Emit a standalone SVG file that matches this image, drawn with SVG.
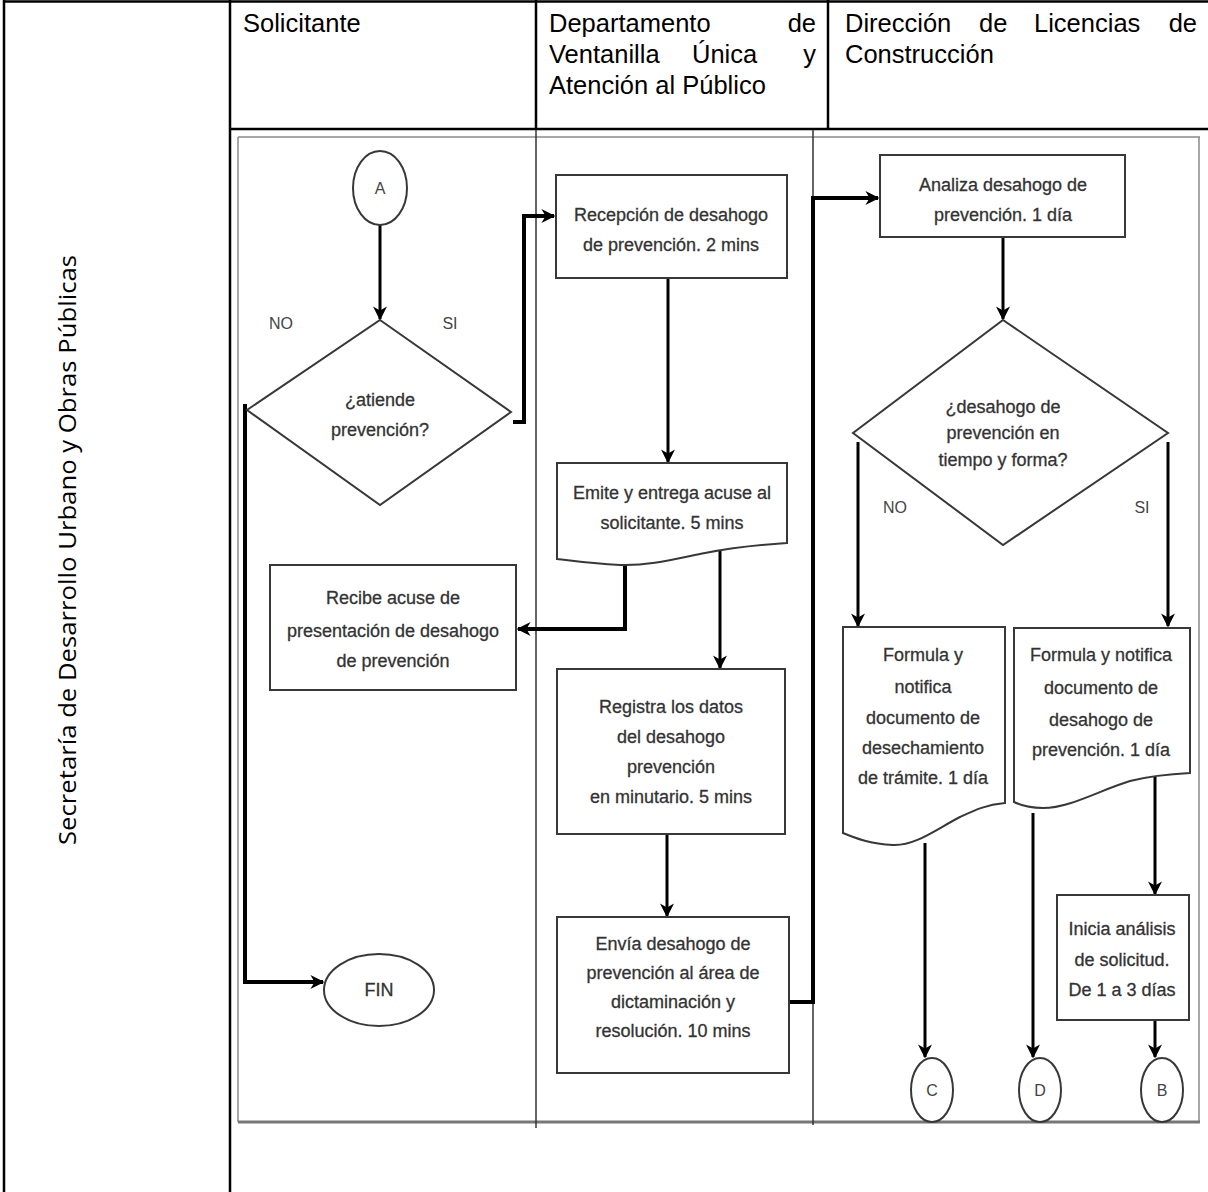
<svg xmlns="http://www.w3.org/2000/svg" width="1208" height="1192" viewBox="0 0 1208 1192">
<style>
.tb{stroke:#000;stroke-width:2.5;fill:none}
.hd{font-family:"Liberation Sans",Arial,sans-serif;font-size:25.5px;fill:#000}
.frame{stroke:#8a8a8a;stroke-width:1.5;fill:none}
.lane{stroke:#333;stroke-width:1.5;fill:none}
.shp{fill:#fff;stroke:#383838;stroke-width:2}
.t{font-family:"Liberation Sans",Arial,sans-serif;font-size:18px;fill:#333;stroke:#333;stroke-width:0.3;text-anchor:middle}
.lbl{font-family:"Liberation Sans",Arial,sans-serif;font-size:16px;fill:#444;text-anchor:middle}
.c3{stroke:#000;stroke-width:3;fill:none}
.c4{stroke:#000;stroke-width:4;fill:none}
</style>
<defs>
<marker id="ah" viewBox="0 0 10 10" refX="9" refY="5" markerWidth="14" markerHeight="14" markerUnits="userSpaceOnUse" orient="auto">
<path d="M0,0 L10,5 L0,10 L3,5 z" fill="#000"/>
</marker>
</defs>
<rect width="1208" height="1192" fill="#fff"/>
<g id="table">
<line class="tb" x1="4" y1="1.5" x2="1208" y2="1.5"/>
<line class="tb" x1="4" y1="0" x2="4" y2="1192"/>
<line class="tb" x1="230" y1="0" x2="230" y2="1192"/>
<line class="tb" x1="230" y1="129" x2="1208" y2="129"/>
<line class="tb" x1="536" y1="0" x2="536" y2="129" stroke-width="2"/>
<line class="tb" x1="828" y1="0" x2="828" y2="129" stroke-width="2"/>
<text transform="translate(76,550) rotate(-90)" text-anchor="middle" style="font-family:'Open Sans','Noto Sans',sans-serif;font-size:23px;fill:#000" textLength="590" lengthAdjust="spacingAndGlyphs">Secretaría de Desarrollo Urbano y Obras Públicas</text>
<text class="hd" x="243" y="32">Solicitante</text>
<text class="hd" x="549" y="32">Departamento</text>
<text class="hd" x="816" y="32" text-anchor="end">de</text>
<text class="hd" x="549" y="63">Ventanilla</text>
<text class="hd" x="692" y="63">Única</text>
<text class="hd" x="816" y="63" text-anchor="end">y</text>
<text class="hd" x="549" y="94">Atención al Público</text>
<text class="hd" x="845" y="32">Dirección</text>
<text class="hd" x="979" y="32">de</text>
<text class="hd" x="1034" y="32">Licencias</text>
<text class="hd" x="1197" y="32" text-anchor="end">de</text>
<text class="hd" x="845" y="63">Construcción</text>
</g>
<g id="frame">
<line class="frame" x1="238" y1="137" x2="1200" y2="137"/>
<line class="frame" x1="238" y1="137" x2="238" y2="1122"/>
<line class="frame" x1="1199" y1="137" x2="1199" y2="1122"/>
<line x1="238" y1="1122" x2="1200" y2="1122" stroke="#777" stroke-width="3"/>
<line class="lane" x1="536" y1="130" x2="536" y2="1128"/>
<line class="lane" x1="813" y1="130" x2="813" y2="1125"/>
</g>
<g id="connectors">
<line class="c3" x1="380" y1="225" x2="380" y2="319" marker-end="url(#ah)"/>
<path class="c4" d="M513,422 H524 V216 H554" marker-end="url(#ah)"/>
<path class="c4" d="M245,404 V982 H323" marker-end="url(#ah)"/>
<line class="c3" x1="668" y1="278" x2="668" y2="462" marker-end="url(#ah)"/>
<path class="c4" d="M625,565 V629 H518" marker-end="url(#ah)"/>
<line class="c3" x1="720" y1="548" x2="720" y2="668" marker-end="url(#ah)"/>
<line class="c3" x1="667" y1="834" x2="667" y2="916" marker-end="url(#ah)"/>
<path class="c4" d="M789,1002 H813 V198 H878" marker-end="url(#ah)"/>
<line class="c3" x1="1003" y1="237" x2="1003" y2="319" marker-end="url(#ah)"/>
<line class="c3" x1="858" y1="442" x2="858" y2="626" marker-end="url(#ah)"/>
<line class="c3" x1="1168" y1="442" x2="1168" y2="626" marker-end="url(#ah)"/>
<line class="c3" x1="925" y1="843" x2="925" y2="1057" marker-end="url(#ah)"/>
<line class="c3" x1="1033" y1="813" x2="1033" y2="1057" marker-end="url(#ah)"/>
<line class="c3" x1="1155" y1="777" x2="1155" y2="894" marker-end="url(#ah)"/>
<line class="c3" x1="1155" y1="1020" x2="1155" y2="1057" marker-end="url(#ah)"/>
<text class="lbl" x="281" y="329">NO</text>
<text class="lbl" x="450" y="329">SI</text>
<text class="lbl" x="895" y="513">NO</text>
<text class="lbl" x="1142" y="513">SI</text>
</g>
<g id="nodeA">
<ellipse class="shp" cx="380" cy="188" rx="27" ry="37"/>
<text class="lbl" x="380" y="194">A</text>
</g>
<g id="decision1">
<polygon class="shp" points="380,320 511,412 380,505 247,410"/>
<text class="t" x="380" y="406">¿atiende</text>
<text class="t" x="380" y="436">prevención?</text>
</g>
<g id="recepcion">
<rect class="shp" x="556" y="175" width="231" height="103"/>
<text class="t" x="671" y="221">Recepción de desahogo</text>
<text class="t" x="671" y="251">de prevención. 2 mins</text>
</g>
<g id="emite">
<path class="shp" d="M557,463 H787 V543 C755,545 735,547 705,553 C675,559 648,566 620,565 C595,564 573,561 557,559 Z"/>
<text class="t" x="672" y="499">Emite y entrega acuse al</text>
<text class="t" x="672" y="529">solicitante. 5 mins</text>
</g>
<g id="recibe">
<rect class="shp" x="270" y="565" width="246" height="125"/>
<text class="t" x="393" y="604">Recibe acuse de</text>
<text class="t" x="393" y="637">presentación de desahogo</text>
<text class="t" x="393" y="667">de prevención</text>
</g>
<g id="registra">
<rect class="shp" x="557" y="669" width="228" height="165"/>
<text class="t" x="671" y="713">Registra los datos</text>
<text class="t" x="671" y="743">del desahogo</text>
<text class="t" x="671" y="773">prevención</text>
<text class="t" x="671" y="803">en minutario. 5 mins</text>
</g>
<g id="envia">
<rect class="shp" x="557" y="917" width="232" height="156"/>
<text class="t" x="673" y="950">Envía desahogo de</text>
<text class="t" x="673" y="979">prevención al área de</text>
<text class="t" x="673" y="1008">dictaminación y</text>
<text class="t" x="673" y="1037">resolución. 10 mins</text>
</g>
<g id="fin">
<ellipse class="shp" cx="379" cy="990" rx="55" ry="36"/>
<text class="t" x="379" y="996">FIN</text>
</g>
<g id="analiza">
<rect class="shp" x="880" y="155" width="245" height="82"/>
<text class="t" x="1003" y="191">Analiza desahogo de</text>
<text class="t" x="1003" y="221">prevención. 1 día</text>
</g>
<g id="decision2">
<polygon class="shp" points="1003,320 1168,433 1003,545 853,433"/>
<text class="t" x="1003" y="413">¿desahogo de</text>
<text class="t" x="1003" y="439">prevención en</text>
<text class="t" x="1003" y="466">tiempo y forma?</text>
</g>
<g id="formula1">
<path class="shp" d="M843,627 H1005 V803 C985,805 975,810 960,817 C935,830 915,846 893,845 C870,844 855,838 843,833 Z"/>
<text class="t" x="923" y="661">Formula y</text>
<text class="t" x="923" y="693">notifica</text>
<text class="t" x="923" y="724">documento de</text>
<text class="t" x="923" y="754">desechamiento</text>
<text class="t" x="923" y="784">de trámite. 1 día</text>
</g>
<g id="formula2">
<path class="shp" d="M1014,628 H1190 V773 C1170,774 1150,776 1130,781 C1100,790 1070,808 1043,808 C1030,808 1020,805 1014,802 Z"/>
<text class="t" x="1101" y="661">Formula y notifica</text>
<text class="t" x="1101" y="694">documento de</text>
<text class="t" x="1101" y="726">desahogo de</text>
<text class="t" x="1101" y="756">prevención. 1 día</text>
</g>
<g id="inicia">
<rect class="shp" x="1057" y="895" width="132" height="125"/>
<text class="t" x="1122" y="935">Inicia análisis</text>
<text class="t" x="1122" y="966">de solicitud.</text>
<text class="t" x="1122" y="996">De 1 a 3 días</text>
</g>
<g id="nodeC">
<ellipse class="shp" cx="932" cy="1090" rx="21" ry="32"/>
<text class="lbl" x="932" y="1096">C</text>
</g>
<g id="nodeD">
<ellipse class="shp" cx="1040" cy="1090" rx="21" ry="32"/>
<text class="lbl" x="1040" y="1096">D</text>
</g>
<g id="nodeB">
<ellipse class="shp" cx="1162" cy="1090" rx="21" ry="32"/>
<text class="lbl" x="1162" y="1096">B</text>
</g>
</svg>
